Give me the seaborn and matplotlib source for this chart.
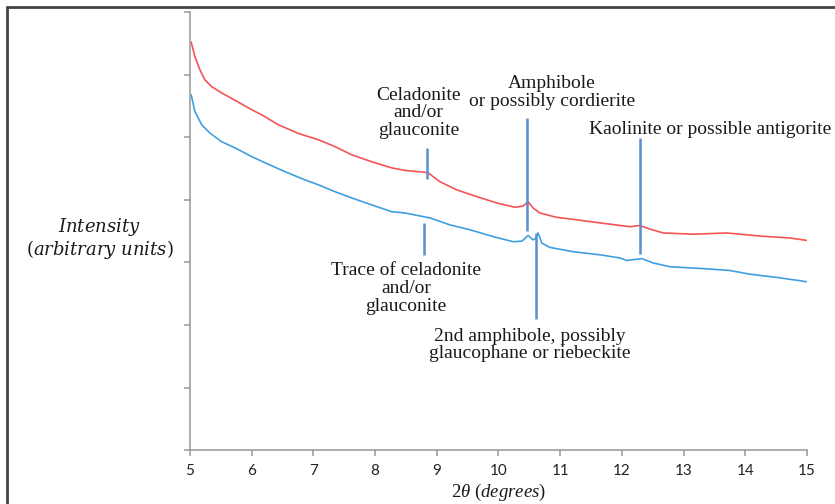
import numpy as np
import pandas as pd
import seaborn as sns
import matplotlib.pyplot as plt
from matplotlib.lines import Line2D

# 2theta positions and intensities
red_x = [5.02, 5.08, 5.16, 5.24, 5.35, 5.51, 5.73, 6.00, 6.16, 6.43, 6.76, 7.08,
         7.35, 7.62, 7.94, 8.27, 8.48, 8.81, 8.86, 9.05, 9.32, 9.65, 9.97, 10.27,
         10.40, 10.48, 10.56, 10.67, 10.94, 11.27, 11.65, 11.97, 12.13, 12.29,
         12.46, 12.67, 13.16, 13.70, 14.24, 14.72, 15.00]
red_y = [6.52, 6.29, 6.08, 5.92, 5.81, 5.71, 5.59, 5.44, 5.36, 5.20, 5.06, 4.96,
         4.85, 4.72, 4.61, 4.51, 4.47, 4.44, 4.43, 4.29, 4.16, 4.05, 3.95, 3.88,
         3.90, 3.97, 3.87, 3.79, 3.72, 3.68, 3.63, 3.59, 3.57, 3.59,
         3.53, 3.47, 3.45, 3.47, 3.42, 3.39, 3.35]

blue_x = [5.02, 5.08, 5.19, 5.32, 5.51, 5.73, 6.00, 6.22, 6.54, 6.86, 7.08, 7.35,
          7.62, 7.94, 8.27, 8.48, 8.89, 9.21, 9.54, 9.92, 10.24, 10.38, 10.48,
          10.56, 10.60, 10.64, 10.67, 10.70, 10.83, 11.21, 11.65, 11.97, 12.08,
          12.32, 12.51, 12.78, 13.32, 13.75, 14.08, 14.51, 15.00]
blue_y = [5.68, 5.41, 5.20, 5.07, 4.93, 4.83, 4.69, 4.59, 4.45, 4.32, 4.24, 4.13,
          4.03, 3.92, 3.81, 3.79, 3.71, 3.60, 3.52, 3.41, 3.33, 3.34, 3.43,
          3.36, 3.38, 3.47, 3.40, 3.31, 3.24, 3.17, 3.12, 3.07, 3.03,
          3.06, 2.99, 2.93, 2.90, 2.87, 2.81, 2.76, 2.69]

# peak markers: x, bottom, top
mark_x = [8.84, 8.79, 10.47, 10.61, 12.30]
mark_y0 = [4.34, 3.12, 3.50, 2.10, 3.14]
mark_y1 = [4.83, 3.63, 5.31, 3.47, 4.98]

labels = ["Celadonite\nand/or\nglauconite",
          "Trace of celadonite\nand/or\nglauconite",
          "Amphibole\nor possibly cordierite",
          "2nd amphibole, possibly\nglaucophane or riebeckite",
          "Kaolinite or possible antigorite"]
label_x = [8.70, 8.50, 10.87, 10.50, 13.43]
label_y = [5.39, 2.58, 5.71, 1.68, 5.12]

red = pd.DataFrame({'theta': red_x, 'I': red_y})
blue = pd.DataFrame({'theta': blue_x, 'I': blue_y})

sns.set_style('white')
plt.rcParams['font.family'] = ['Liberation Serif', 'DejaVu Serif']
plt.rcParams['mathtext.fontset'] = 'custom'
plt.rcParams['mathtext.rm'] = 'Liberation Serif'
plt.rcParams['mathtext.it'] = 'Liberation Serif:italic'

fig = plt.figure(figsize=(8.35, 5.04), dpi=100)
ax = fig.add_axes([0.2275, 0.107, 0.739, 0.869])

sns.lineplot(data=red, x='theta', y='I', color='#f45454', lw=1.2, ax=ax)
sns.lineplot(data=blue, x='theta', y='I', color='#3f9fe0', lw=1.2, ax=ax)

ax.vlines(mark_x, mark_y0, mark_y1, color='#5a8fcc', lw=1.8)
for t, x, y in zip(labels, label_x, label_y):
    ax.text(x, y, t, ha='center', va='center', multialignment='center',
            fontsize=14, color='#1a1a1a', linespacing=1.05)

ax.set_xlim(5, 15)
ax.set_ylim(0, 7)
ax.set_xticks(range(5, 16))
ax.set_yticks(range(0, 8))
ax.set_yticklabels([])
ax.tick_params(axis='both', direction='out', length=4, width=1.2, color='#a0a0a0')
ax.tick_params(axis='y', left=True)
ax.tick_params(axis='x', bottom=True, pad=6)
for lab in ax.get_xticklabels():
    lab.set_fontfamily('Lato')
    lab.set_fontsize(11)
    lab.set_color('#222222')

for s in ['top', 'right']:
    ax.spines[s].set_visible(False)
for s in ['left', 'bottom']:
    ax.spines[s].set_color('#a0a0a0')
    ax.spines[s].set_linewidth(1.2)

ax.set_xlabel(r'$2\theta\ (\mathit{degrees})$', fontsize=13.5, labelpad=3, color='#1a1a1a')
ax.set_ylabel('$\\mathit{Intensity}$\n$(\\mathit{arbitrary\\ units})$', fontsize=13,
              rotation=0, ha='center', va='center', color='#1a1a1a', linespacing=1.0)
ax.yaxis.label.set_math_fontfamily('dejavuserif')
ax.yaxis.set_label_coords(-0.146, 0.484)

# frame of the original picture (top and left only)
fig.add_artist(Line2D([0.0078, 1.0], [0.987, 0.987], transform=fig.transFigure,
                      color='#444444', lw=2))
fig.add_artist(Line2D([0.0078, 0.0078], [0.0, 0.987], transform=fig.transFigure,
                      color='#444444', lw=2))

fig.savefig('out.png', dpi=100)
